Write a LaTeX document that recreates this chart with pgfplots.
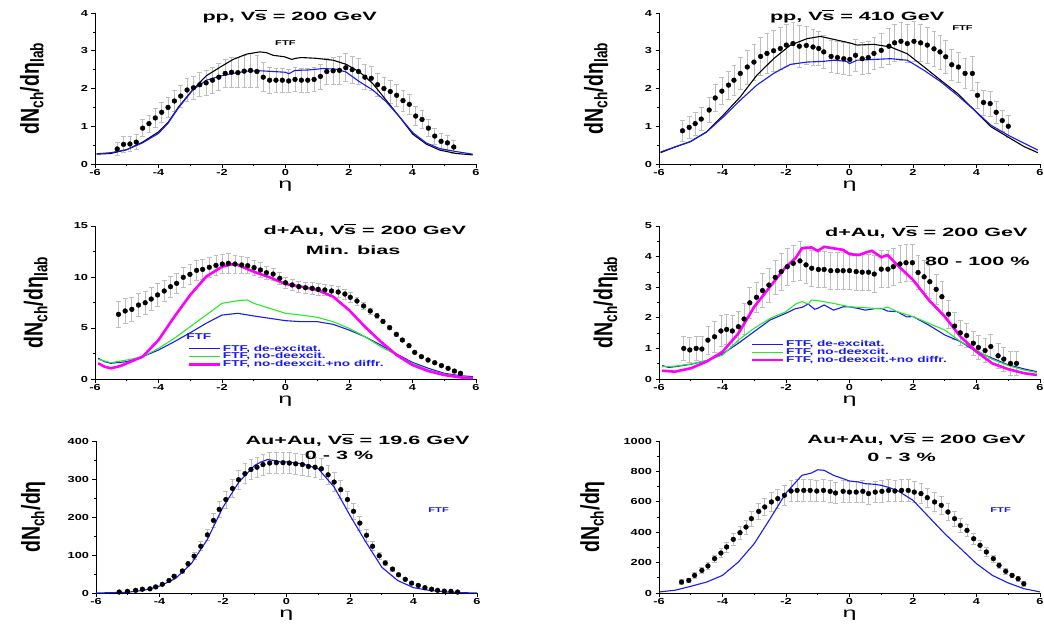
\documentclass[border=0pt]{standalone}
\usepackage{pgfplots}
\pgfplotsset{compat=1.18}
\usepackage{fontspec}
\setmainfont{Liberation Sans}
\newfontfamily\tickf{Liberation Sans}[FakeStretch=1.45]
\newfontfamily\titf{Liberation Sans}[FakeStretch=1.8]
\newfontfamily\legf{Liberation Sans}[FakeStretch=1.6]
\newfontfamily\ylf{Liberation Sans}[FakeStretch=0.75]
\definecolor{fblue}{RGB}{25,25,245}
\definecolor{fgreen}{RGB}{40,235,40}
\definecolor{fmag}{RGB}{255,0,255}
\definecolor{ebar}{RGB}{190,190,190}
\newcommand{\rs}{V\kern-0.04em\rlap{\rule[0.8em]{1.0em}{0.07em}}s}
\newcommand{\ttl}{\titf\bfseries\fontsize{12}{12}\selectfont}
\pgfplotsset{
  panel/.style={
    scale only axis, width=381pt, xmin=-6, xmax=6, clip=false,
    axis lines=left, axis line style={-, line width=0.9pt, black},
    tick align=outside, major tick length=3.5pt, minor tick length=2pt,
    every tick/.style={black, line width=0.7pt},
    xtick={-6,-4,...,6}, minor x tick num=1, minor y tick num=1,
    /pgf/number format/assume math mode=true,
    /pgf/number format/1000 sep={},
    tick label style={font=\tickf\bfseries\fontsize{8.8}{9}\selectfont},
    xticklabel style={inner sep=1.5pt},
    xlabel={η},
    xlabel style={font=\titf\fontsize{14}{14}\selectfont, at={(axis description cs:0.5,-0.112)}, anchor=north, inner sep=0pt},
    ylabel style={font=\ylf\bfseries\fontsize{26}{26}\selectfont, anchor=center},
  },
  dots/.style={only marks, mark=*, mark size=2.4pt, black,
    error bars/y dir=both, error bars/y explicit,
    error bars/error bar style={ebar, line width=0.7pt},
    error bars/error mark options={ebar, rotate=90, mark size=2.4pt, line width=0.7pt}},
  ftf/.style={no marks, line width=1.1pt},
  leg/.style={legend style={draw=none, fill=none, font=\legf\bfseries\fontsize{8.5}{8.5}\selectfont, text=fblue, row sep=-3.8pt, cells={anchor=west}},
    legend image code/.code={\draw[##1] (0pt,0pt) -- (31pt,0pt);}},
}
\begin{document}
\begin{tikzpicture}
% ---------------- Panel 1: pp 200 GeV
\begin{axis}[panel, at={(95pt,-164pt)}, anchor=south west, height=151pt,
  ymin=0, ymax=4, ytick={0,1,2,3,4},
  ylabel={dN\textsubscript{ch}/dη\textsubscript{lab}},
  ylabel style={at={(axis description cs:-0.165,0.5)}}]
\addplot[dots] table[x=x,y=y,y error=e] {
x y e
-5.3 0.40 0.18
-5.1 0.52 0.20
-4.9 0.53 0.20
-4.7 0.58 0.20
-4.5 0.95 0.22
-4.3 1.07 0.23
-4.1 1.22 0.25
-3.9 1.37 0.26
-3.7 1.50 0.27
-3.5 1.67 0.28
-3.3 1.80 0.29
-3.1 1.96 0.30
-2.9 2.02 0.31
-2.7 2.10 0.32
-2.5 2.15 0.33
-2.3 2.22 0.34
-2.1 2.30 0.36
-1.9 2.40 0.38
-1.7 2.43 0.40
-1.5 2.42 0.40
-1.3 2.46 0.42
-1.1 2.48 0.44
-0.9 2.45 0.42
-0.7 2.30 0.38
-0.5 2.22 0.34
-0.3 2.22 0.32
-0.1 2.22 0.32
0.1 2.20 0.31
0.3 2.24 0.32
0.5 2.22 0.32
0.7 2.22 0.32
0.9 2.24 0.32
1.1 2.32 0.33
1.3 2.45 0.34
1.5 2.47 0.35
1.7 2.48 0.36
1.9 2.55 0.37
2.1 2.50 0.36
2.3 2.45 0.35
2.5 2.30 0.33
2.7 2.27 0.32
2.9 2.10 0.31
3.1 2.00 0.30
3.3 1.92 0.30
3.5 1.82 0.29
3.7 1.68 0.28
3.9 1.58 0.27
4.1 1.27 0.25
4.3 1.18 0.24
4.5 0.95 0.22
4.7 0.74 0.21
4.9 0.60 0.20
5.1 0.56 0.20
5.3 0.45 0.18
};
\addplot[ftf, black] table {
-5.95 0.26
-5.5 0.28
-5.0 0.38
-4.5 0.58
-4.0 0.85
-3.7 1.10
-3.36 1.52
-2.92 1.97
-2.49 2.34
-2.05 2.57
-1.65 2.77
-1.23 2.91
-0.81 2.97
-0.6 2.95
-0.39 2.88
-0.03 2.84
0.2 2.77
0.32 2.80
0.5 2.82
0.97 2.80
1.5 2.75
1.91 2.64
2.33 2.44
2.75 2.13
3.17 1.69
3.59 1.25
4.01 0.79
4.43 0.53
4.85 0.37
5.37 0.28
5.9 0.24
};
\addplot[ftf, fblue] table {
-5.95 0.27
-5.5 0.30
-5.0 0.38
-4.5 0.56
-4.0 0.81
-3.7 1.08
-3.36 1.50
-2.92 1.96
-2.49 2.22
-2.05 2.33
-1.65 2.40
-1.23 2.46
-0.81 2.47
-0.39 2.45
0.0 2.43
0.1 2.39
0.3 2.48
0.7 2.49
1.2 2.53
1.6 2.51
1.9 2.44
2.33 2.18
2.75 1.96
3.17 1.65
3.59 1.25
4.01 0.83
4.43 0.56
4.85 0.41
5.37 0.33
5.9 0.26
};
\node[font=\ttl] at (axis cs:0.13,3.9) {pp, \rs{} = 200 GeV};
\node[font=\legf\bfseries\fontsize{7}{7}\selectfont] at (axis cs:0.0,3.2) {FTF};
\end{axis}
% ---------------- Panel 2: pp 410 GeV
\begin{axis}[panel, at={(659pt,-164pt)}, anchor=south west, height=151pt,
  ymin=0, ymax=4, ytick={0,1,2,3,4},
  ylabel={dN\textsubscript{ch}/dη\textsubscript{lab}},
  ylabel style={at={(axis description cs:-0.165,0.5)}}]
\addplot[dots] table[x=x,y=y,y error=e] {
x y e
-5.26 0.88 0.28
-5.05 0.97 0.28
-4.86 1.07 0.30
-4.67 1.19 0.31
-4.42 1.43 0.33
-4.23 1.75 0.35
-4.02 1.93 0.36
-3.81 2.09 0.37
-3.64 2.22 0.40
-3.44 2.40 0.42
-3.22 2.57 0.45
-3.01 2.70 0.48
-2.80 2.85 0.50
-2.60 2.93 0.52
-2.39 3.00 0.54
-2.18 3.06 0.55
-1.99 3.15 0.56
-1.78 3.19 0.56
-1.58 3.12 0.55
-1.36 3.14 0.50
-1.15 3.10 0.48
-0.97 3.06 0.45
-0.81 2.97 0.43
-0.58 2.85 0.42
-0.38 2.82 0.42
-0.18 2.79 0.42
0.01 2.77 0.42
0.19 2.88 0.42
0.40 2.79 0.42
0.59 2.82 0.42
0.77 2.93 0.43
1.00 3.01 0.45
1.24 3.12 0.48
1.42 3.21 0.50
1.62 3.25 0.50
1.82 3.19 0.50
2.03 3.25 0.52
2.24 3.21 0.50
2.45 3.15 0.48
2.66 3.05 0.47
2.85 2.97 0.45
3.03 2.84 0.44
3.22 2.63 0.42
3.43 2.57 0.40
3.64 2.40 0.40
3.87 2.40 0.45
4.03 1.82 0.35
4.22 1.63 0.33
4.43 1.60 0.33
4.62 1.37 0.30
4.81 1.15 0.28
5.00 1.00 0.30
};
\addplot[ftf, black] table {
-5.95 0.30
-5.5 0.45
-5.02 0.59
-4.5 0.85
-3.97 1.30
-3.44 1.78
-2.92 2.35
-2.39 2.79
-1.86 3.15
-1.34 3.32
-0.92 3.38
-0.49 3.30
0.0 3.21
0.24 3.15
0.77 3.17
1.29 3.10
1.82 2.92
2.35 2.57
2.87 2.22
3.40 1.87
3.93 1.43
4.45 0.99
4.98 0.72
5.50 0.46
5.93 0.30
};
\addplot[ftf, fblue] table {
-5.95 0.32
-5.5 0.45
-5.02 0.59
-4.5 0.85
-3.97 1.25
-3.44 1.69
-2.92 2.09
-2.39 2.40
-1.86 2.64
-1.34 2.70
-0.81 2.72
-0.49 2.75
-0.1 2.72
0.0 2.66
0.24 2.75
0.77 2.77
1.29 2.79
1.82 2.75
2.35 2.48
2.87 2.18
3.40 1.82
3.93 1.43
4.45 1.03
4.98 0.77
5.50 0.55
5.93 0.37
};
\node[font=\ttl] at (axis cs:0.24,3.9) {pp, \rs{} = 410 GeV};
\node[font=\legf\bfseries\fontsize{7}{7}\selectfont] at (axis cs:3.56,3.59) {FTF};
\end{axis}
% ---------------- Panel 3: d+Au min bias
\begin{axis}[panel, at={(95pt,-379pt)}, anchor=south west, height=153pt,
  ymin=0, ymax=15, ytick={0,5,10,15},
  ylabel={dN\textsubscript{ch}/dη\textsubscript{lab}},
  ylabel style={at={(axis description cs:-0.155,0.5)}},
  leg, legend style={at={(0.234,0.25)}, anchor=north west}]
\addplot[dots, forget plot] table[x=x,y=y,y error=e] {
x y e
-5.26 6.34 1.25
-5.05 6.67 1.20
-4.84 6.83 1.20
-4.63 7.25 1.15
-4.42 7.48 1.15
-4.23 7.84 1.10
-4.03 8.24 1.10
-3.82 8.63 1.05
-3.62 9.05 1.05
-3.43 9.38 1.00
-3.22 9.97 1.00
-3.01 10.26 1.00
-2.80 10.65 1.00
-2.61 10.75 1.00
-2.40 10.95 1.00
-2.19 11.14 1.00
-1.99 11.27 0.95
-1.80 11.34 0.95
-1.59 11.27 0.90
-1.38 11.18 0.85
-1.19 11.11 0.80
-0.99 10.92 0.75
-0.79 10.69 0.70
-0.60 10.42 0.65
-0.39 10.29 0.60
-0.18 9.87 0.55
0.00 9.44 0.55
0.21 9.22 0.55
0.42 9.05 0.55
0.63 8.95 0.55
0.84 8.89 0.55
1.03 8.79 0.55
1.24 8.73 0.55
1.45 8.63 0.55
1.66 8.53 0.55
1.87 8.33 0.50
2.04 8.01 0.45
2.25 7.65 0.40
2.46 7.16 0.35
2.67 6.67 0.30
2.88 6.21 0.25
3.07 5.65 0.20
3.28 5.03 0.20
3.49 4.38 0.15
3.68 3.82 0.15
3.89 3.27 0.15
4.07 2.61 0.10
4.28 2.19 0.10
4.49 1.86 0.10
4.70 1.60 0.10
4.91 1.31 0.10
5.12 1.05 0.10
5.32 0.78 0.10
5.51 0.56 0.10
};
\addplot[ftf, fblue] table {
-5.9 2.03
-5.7 1.70
-5.5 1.54
-5.0 1.70
-4.5 2.19
-4.0 2.84
-3.5 3.66
-3.0 4.54
-2.5 5.46
-2.0 6.27
-1.5 6.44
-1.0 6.18
-0.5 5.95
0.0 5.72
0.5 5.62
1.0 5.62
1.5 5.36
2.0 4.80
2.5 4.15
3.0 3.33
3.5 2.45
4.0 1.63
4.5 1.05
5.0 0.56
5.5 0.33
5.9 0.23
};
\addlegendentry{FTF, de-excitat.}
\addplot[ftf, fgreen] table {
-5.9 1.93
-5.5 1.60
-5.0 1.86
-4.5 2.19
-4.0 3.00
-3.5 3.99
-3.0 5.13
-2.5 6.27
-2.0 7.42
-1.5 7.68
-1.2 7.75
-1.0 7.42
-0.5 6.93
0.0 6.44
0.5 6.27
1.0 6.05
1.5 5.62
2.0 4.97
2.5 4.15
3.0 3.17
3.5 2.35
4.0 1.54
4.5 0.88
5.0 0.49
5.5 0.23
5.9 0.13
};
\addlegendentry{FTF, no-deexcit.}
\addplot[no marks, fmag, line width=2.6pt] table {
-5.9 1.54
-5.7 1.21
-5.5 1.05
-5.2 1.27
-5.0 1.54
-4.5 2.19
-4.0 3.82
-3.5 6.11
-3.0 8.24
-2.5 10.03
-2.0 11.01
-1.7 11.24
-1.5 11.18
-1.0 10.52
-0.5 9.97
0.0 9.31
0.5 9.05
1.0 8.73
1.5 8.07
2.0 6.76
2.5 5.13
3.0 3.66
3.5 2.35
4.0 1.37
4.5 0.78
5.0 0.39
5.5 0.16
5.9 0.07
};
\addlegendentry{FTF, no-deexcit.+no diffr.}
\node[font=\ttl] at (axis cs:2.5,14.6) {d+Au, \rs{} = 200 GeV};
\node[font=\ttl] at (axis cs:2.13,12.6) {Min. bias};
\node[font=\legf\bfseries\fontsize{8.5}{8.5}\selectfont, text=fblue] at (axis cs:-2.73,4.15) {FTF};
\end{axis}
% ---------------- Panel 4: d+Au 80-100%
\begin{axis}[panel, at={(659pt,-379pt)}, anchor=south west, height=153pt,
  ymin=0, ymax=5, ytick={0,1,2,3,4,5},
  ylabel={dN\textsubscript{ch}/dη\textsubscript{lab}},
  ylabel style={at={(axis description cs:-0.14,0.5)}},
  leg, legend style={at={(0.232,0.28)}, anchor=north west}]
\addplot[dots, forget plot] table[x=x,y=y,y error=e] {
x y e
-5.22 1.00 0.40
-5.03 0.95 0.40
-4.83 1.00 0.40
-4.65 0.98 0.40
-4.46 1.27 0.45
-4.25 1.38 0.50
-4.05 1.57 0.50
-3.87 1.62 0.50
-3.69 1.57 0.50
-3.50 1.71 0.50
-3.32 1.96 0.50
-3.14 2.49 0.50
-2.93 2.67 0.50
-2.74 2.89 0.55
-2.54 3.07 0.55
-2.34 3.32 0.55
-2.15 3.51 0.60
-1.96 3.67 0.60
-1.77 3.78 0.60
-1.56 3.86 0.65
-1.37 3.73 0.60
-1.19 3.62 0.60
-0.98 3.58 0.60
-0.80 3.58 0.60
-0.59 3.54 0.60
-0.38 3.54 0.60
-0.20 3.54 0.60
0.00 3.54 0.60
0.21 3.51 0.60
0.40 3.49 0.60
0.60 3.49 0.60
0.78 3.43 0.60
1.00 3.59 0.60
1.21 3.59 0.60
1.38 3.67 0.60
1.59 3.76 0.60
1.78 3.80 0.60
1.98 3.80 0.60
2.16 3.48 0.55
2.35 3.34 0.55
2.53 3.18 0.55
2.73 2.93 0.50
2.91 2.69 0.50
3.12 2.12 0.45
3.31 1.73 0.45
3.49 1.51 0.40
3.69 1.42 0.40
3.90 1.17 0.40
4.06 1.03 0.40
4.27 0.93 0.40
4.45 1.06 0.40
4.68 0.76 0.40
4.86 0.65 0.40
5.07 0.51 0.40
5.26 0.51 0.40
};
\addplot[ftf, fblue] table {
-5.9 0.44
-5.7 0.38
-5.5 0.40
-5.0 0.48
-4.5 0.60
-4.0 0.82
-3.5 1.17
-3.0 1.55
-2.5 1.93
-2.0 2.15
-1.7 2.30
-1.5 2.34
-1.3 2.45
-1.1 2.28
-1.0 2.31
-0.8 2.42
-0.5 2.25
-0.2 2.36
0.0 2.36
0.3 2.30
0.5 2.25
0.8 2.30
1.0 2.31
1.2 2.22
1.5 2.20
1.8 2.03
2.0 2.04
2.5 1.76
3.0 1.44
3.5 1.22
4.0 0.89
4.5 0.68
5.0 0.46
5.5 0.33
5.9 0.24
};
\addlegendentry{FTF, de-excitat.}
\addplot[ftf, fgreen] table {
-5.9 0.40
-5.5 0.42
-5.0 0.49
-4.5 0.60
-4.0 0.78
-3.5 1.27
-3.0 1.66
-2.5 1.98
-2.0 2.20
-1.7 2.45
-1.5 2.53
-1.3 2.45
-1.2 2.58
-1.0 2.56
-0.5 2.47
0.0 2.36
0.5 2.33
1.0 2.29
1.2 2.35
1.5 2.20
2.0 2.04
2.5 1.82
3.0 1.60
3.5 1.22
4.0 0.95
4.5 0.64
5.0 0.44
5.5 0.29
5.9 0.21
};
\addlegendentry{FTF, no-deexcit.}
\addplot[no marks, fmag, line width=2.6pt] table {
-5.9 0.27
-5.5 0.24
-5.0 0.35
-4.5 0.57
-4.0 0.89
-3.5 1.49
-3.0 2.36
-2.5 3.02
-2.0 3.67
-1.7 3.95
-1.5 4.27
-1.2 4.30
-1.0 4.19
-0.8 4.32
-0.5 4.27
-0.2 4.22
0.0 4.08
0.3 4.05
0.5 4.13
0.7 4.19
1.0 3.98
1.2 4.05
1.5 3.73
2.0 3.24
2.5 2.58
3.0 2.04
3.5 1.38
4.0 0.89
4.5 0.51
5.0 0.32
5.5 0.19
5.9 0.13
};
\addlegendentry{FTF, no-deexcit.+no diffr.}
\node[font=\ttl] at (axis cs:2.42,4.8) {d+Au, \rs{} = 200 GeV};
\node[font=\ttl] at (axis cs:4.03,3.83) {80 - 100 \%};
\end{axis}
% ---------------- Panel 5: Au+Au 19.6 GeV
\begin{axis}[panel, at={(96pt,-593pt)}, anchor=south west, height=152pt,
  ymin=0, ymax=400, ytick={0,100,200,300,400},
  ylabel={dN\textsubscript{ch}/dη},
  ylabel style={at={(axis description cs:-0.165,0.5)}}]
\addplot[dots] table[x=x,y=y,y error=e] {
x y e
-5.27 2.6 2
-5.01 4.4 2
-4.75 7 2
-4.54 10 2
-4.30 11 2
-4.12 16 2
-3.91 23 3
-3.70 33 3
-3.54 44 4
-3.28 58 5
-3.10 77 7
-2.91 97 9
-2.70 123 12
-2.49 153 15
-2.30 191 18
-2.12 220 20
-1.91 246 22
-1.70 275 24
-1.51 298 25
-1.31 314 26
-1.12 325 27
-0.93 331 27
-0.74 338 28
-0.53 342 28
-0.32 343 28
-0.11 343 28
0.09 342 28
0.29 340 28
0.50 338 28
0.69 333 27
0.90 331 27
1.10 327 27
1.31 311 26
1.50 292 25
1.71 272 24
1.92 246 22
2.11 215 20
2.31 184 18
2.52 152 15
2.71 123 12
2.92 98 9
3.11 79 7
3.34 63 5
3.53 48 4
3.74 36 3
3.94 26 3
4.15 20 2
4.36 14 2
4.57 10 2
4.76 7 2
4.97 5 2
5.18 4.4 2
5.39 2.6 2
};
\addplot[ftf, fblue] table {
-6.0 0
-5.5 1
-5.0 2
-4.5 7
-4.0 18
-3.5 38
-3.0 77
-2.5 140
-2.0 226
-1.5 292
-1.0 336
-0.8 345
-0.6 351
-0.4 349
-0.2 345
0.0 345
0.5 340
1.0 327
1.5 279
2.0 204
2.5 134
3.0 68
3.5 33
4.0 14
4.5 7
5.0 3
5.5 1
6.0 0
};
\node[font=\ttl] at (axis cs:2.24,403) {Au+Au, \rs{} = 19.6 GeV};
\node[font=\ttl] at (axis cs:1.66,362) {0 - 3 \%};
\node[font=\legf\bfseries\fontsize{7}{7}\selectfont, text=fblue] at (axis cs:4.79,219) {FTF};
\end{axis}
% ---------------- Panel 6: Au+Au 200 GeV
\begin{axis}[panel, at={(659pt,-593pt)}, anchor=south west, height=152pt,
  ymin=0, ymax=1000, ytick={0,200,400,600,800,1000},
  ylabel={dN\textsubscript{ch}/dη},
  ylabel style={at={(axis description cs:-0.175,0.5)}}]
\addplot[dots] table[x=x,y=y,y error=e] {
x y e
-5.29 72 15
-5.06 83 15
-4.88 116 18
-4.65 149 20
-4.46 178 22
-4.25 226 25
-4.05 263 30
-3.87 303 33
-3.66 353 38
-3.45 397 42
-3.26 434 46
-3.09 489 50
-2.86 537 55
-2.67 566 58
-2.46 599 62
-2.26 621 64
-2.05 643 66
-1.84 671 68
-1.65 675 70
-1.44 675 70
-1.24 675 70
-1.03 671 70
-0.82 675 70
-0.61 669 70
-0.44 658 68
-0.20 669 70
0.00 664 68
0.21 664 68
0.42 669 70
0.60 654 68
0.81 664 68
1.02 669 70
1.23 675 70
1.43 671 70
1.64 675 70
1.85 675 70
2.04 664 68
2.25 654 66
2.45 627 64
2.68 599 62
2.89 577 58
3.10 533 55
3.31 489 50
3.49 445 46
3.70 412 42
3.91 357 38
4.11 314 33
4.31 270 30
4.53 226 25
4.71 182 22
4.92 143 18
5.12 116 15
5.31 94 15
5.49 61 15
};
\addplot[ftf, fblue] table {
-6.0 7
-5.5 18
-5.0 44
-4.5 72
-4.0 116
-3.5 204
-3.0 325
-2.5 489
-2.0 658
-1.5 774
-1.2 789
-1.0 811
-0.8 807
-0.5 774
-0.2 752
0.0 737
0.3 730
0.5 719
0.8 715
1.0 708
1.2 697
1.5 675
2.0 610
2.5 500
3.0 390
3.5 292
4.0 193
4.5 116
5.0 66
5.5 28
6.0 7
};
\node[font=\ttl] at (axis cs:2.11,1009) {Au+Au, \rs{} = 200 GeV};
\node[font=\ttl] at (axis cs:1.64,890) {0 - 3 \%};
\node[font=\legf\bfseries\fontsize{7}{7}\selectfont, text=fblue] at (axis cs:4.76,548) {FTF};
\end{axis}
\pgfresetboundingbox
\path[use as bounding box] (0pt,0pt) rectangle (1044pt,-624pt);
\end{tikzpicture}
\end{document}
